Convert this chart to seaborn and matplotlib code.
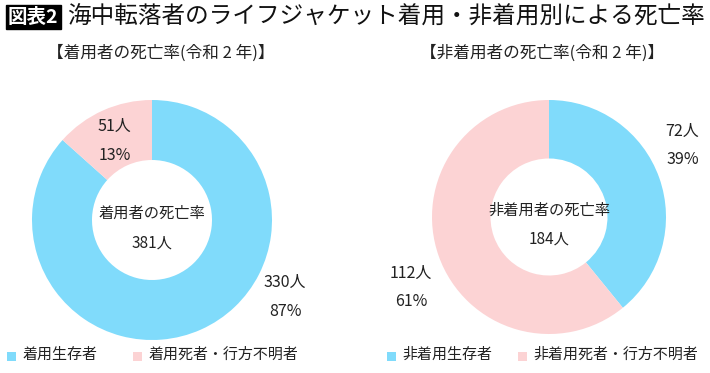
import matplotlib
matplotlib.use("Agg")
import matplotlib.pyplot as plt
from matplotlib.patches import Rectangle
import seaborn as sns

sns.set_theme(style="white")
plt.rcParams['font.family'] = ['Noto Sans CJK JP', 'DejaVu Sans']

# Data
title_tag = "図表2"
title = "海中転落者のライフジャケット着用・非着用別による死亡率"
left_title = "【着用者の死亡率(令和 2 年)】"
right_title = "【非着用者の死亡率(令和 2 年)】"
left_labels = ["着用生存者", "着用死者・行方不明者"]
right_labels = ["非着用生存者", "非着用死者・行方不明者"]
left_values = [330, 51]
right_values = [72, 112]
left_pct = ["87%", "13%"]
right_pct = ["39%", "61%"]
left_center = ["着用者の死亡率", "381人"]
right_center = ["非着用者の死亡率", "184人"]

colors = ["#80DBFB", "#FCD3D4"]
text_color = "#222222"

W, H = 710, 373
fig = plt.figure(figsize=(W / 100, H / 100), dpi=100)
fig.patch.set_facecolor("white")


def make_ax(cx, cy, r):
    return fig.add_axes([(cx - r) / W, (H - cy - r) / H, 2 * r / W, 2 * r / H])


def donut(ax, values, pcts, center, lab_pos):
    wedges, _ = ax.pie(values, colors=colors, startangle=90, counterclock=False,
                       radius=1.0, wedgeprops=dict(width=0.5, linewidth=0))
    ax.set_xlim(-1, 1)
    ax.set_ylim(-1, 1)
    ax.set_aspect("equal")
    ax.axis("off")
    ax.text(0, 0.06, center[0], ha="center", va="center", fontsize=11, color=text_color)
    ax.text(0, -0.19, center[1], ha="center", va="center", fontsize=11, color=text_color)
    for v, p, (x, y) in zip(values, pcts, lab_pos):
        ax.text(x, y, f"{v}人", ha="center", va="center", fontsize=11.5,
                color=text_color, clip_on=False)
        ax.text(x, y - 0.24, p, ha="center", va="center", fontsize=11.5,
                color=text_color, clip_on=False)
    return wedges


axL = make_ax(152, 220, 120)
wL = donut(axL, left_values, left_pct, left_center, [(1.11, -0.52), (-0.31, 0.78)])
axR = make_ax(549, 217, 117)
wR = donut(axR, right_values, right_pct, right_center, [(1.14, 0.73), (-1.18, -0.48)])

# Title
fig.text(8 / W, 1 - 17 / H, title_tag, ha="left", va="center", fontsize=14,
         fontweight="bold", color="white",
         bbox=dict(boxstyle="square,pad=0.12", facecolor="black", edgecolor="black"))
fig.text(67 / W, 1 - 17 / H, title, ha="left", va="center", fontsize=17, color="#111111")

fig.text(161 / W, 1 - 53 / H, left_title, ha="center", va="center", fontsize=12, color=text_color)
fig.text(542 / W, 1 - 53 / H, right_title, ha="center", va="center", fontsize=12, color=text_color)

# Legends (manual squares + text)
legend_items = [
    (left_labels[0], colors[0], 7),
    (left_labels[1], colors[1], 133),
    (right_labels[0], colors[0], 387),
    (right_labels[1], colors[1], 518),
]
for lab, col, x in legend_items:
    fig.patches.append(Rectangle((x / W, 1 - 361 / H), 9 / W, 9 / H,
                                 transform=fig.transFigure, facecolor=col,
                                 edgecolor="none", figure=fig))
    fig.text((x + 15) / W, 1 - 355 / H, lab, ha="left", va="center",
             fontsize=10.8, color=text_color)

fig.savefig("out.png", dpi=100, facecolor="white")
